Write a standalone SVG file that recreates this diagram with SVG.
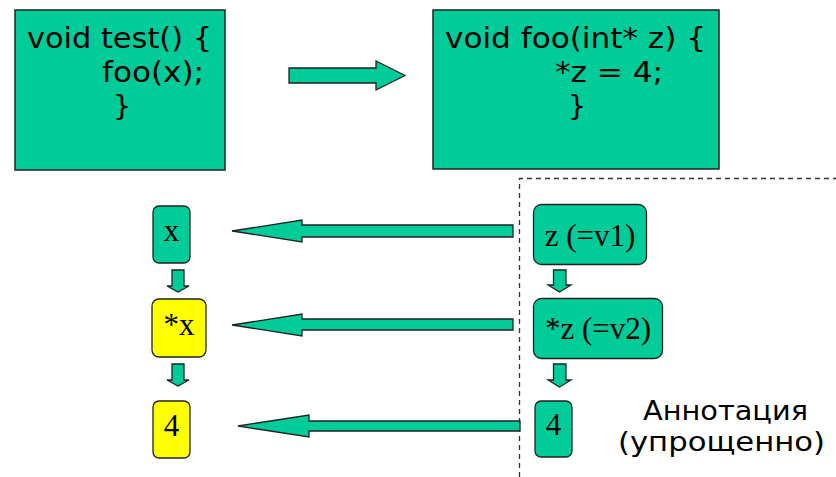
<svg xmlns="http://www.w3.org/2000/svg" width="836" height="477" viewBox="0 0 836 477">
<style>
.box{fill:#00CC99;stroke:#222;stroke-width:1.5}
.g{fill:#00CC99;stroke:#222;stroke-width:1.3;stroke-linejoin:miter}
.y{fill:#FFFF00;stroke:#222;stroke-width:1.3}
.code{font-family:"DejaVu Sans",Verdana,sans-serif;font-size:28.5px;fill:#000}
.t{font-family:"Liberation Serif","Times New Roman",serif;font-size:31px;fill:#000;text-anchor:middle}
.ann{font-family:"DejaVu Sans",Verdana,sans-serif;font-size:26px;fill:#000}
</style>
<rect width="836" height="477" fill="#fff"/>
<g id="test-box">
<rect class="box" x="15" y="10" width="210" height="160"/>
<text class="code" x="27" y="48" textLength="185" lengthAdjust="spacingAndGlyphs">void test() {</text>
<text class="code" x="102" y="82" textLength="102" lengthAdjust="spacingAndGlyphs">foo(x);</text>
<text class="code" x="113" y="116">}</text>
</g>
<g id="foo-box">
<rect class="box" x="433" y="10" width="286" height="159"/>
<text class="code" x="445" y="48" textLength="261" lengthAdjust="spacingAndGlyphs">void foo(int* z) {</text>
<text class="code" x="555" y="82" textLength="108" lengthAdjust="spacingAndGlyphs">*z = 4;</text>
<text class="code" x="568" y="116">}</text>
</g>
<g id="annotation-frame">
<path d="M519.5 477 V178.5 H836" fill="none" stroke="#333" stroke-width="1.3" stroke-dasharray="5,4"/>
<text class="ann" x="643" y="420" textLength="165" lengthAdjust="spacingAndGlyphs">Аннотация</text>
<text class="ann" x="618" y="451" textLength="207" lengthAdjust="spacingAndGlyphs">(упрощенно)</text>
</g>
<g id="node-x"><rect class="g" x="153" y="206" width="37" height="57" rx="6"/><text class="t" x="171.5" y="241">x</text></g>
<g id="node-deref-x"><rect class="y" x="152" y="299" width="54" height="58" rx="7"/><text class="t" x="179" y="335">*x</text></g>
<g id="node-4-left"><rect class="y" x="153" y="401" width="37" height="57" rx="6"/><text class="t" x="171.5" y="436">4</text></g>
<g id="node-z"><rect class="g" x="533.5" y="204.5" width="113" height="60" rx="8"/><text class="t" x="590" y="246">z (=v1)</text></g>
<g id="node-deref-z"><rect class="g" x="533.5" y="298.5" width="129" height="60" rx="8"/><text class="t" x="598" y="339">*z (=v2)</text></g>
<g id="node-4-right"><rect class="g" x="535" y="401" width="37" height="56" rx="6"/><text class="t" x="553.5" y="435">4</text></g>
<g id="connectors">
<polygon class="g" points="289,68 376,68 376,61 405,75.5 376,90 376,83 289,83"/>
<polygon class="g" points="232,231 302,220 302,225 513,225 513,237 302,237 302,242"/>
<polygon class="g" points="232,325 302,314 302,319 513,319 513,330 302,330 302,336"/>
<polygon class="g" points="238,426 309,415 309,421 520,421 520,431 309,431 309,437"/>
<polygon class="g" points="172,270 184,270 184,286 189,286 178,292 167,286 172,286"/>
<polygon class="g" points="172,364 184,364 184,380 189,380 178,386 167,380 172,380"/>
<polygon class="g" points="553.5,270 566,270 566,285 571,285 559.5,292 548,285 553.5,285"/>
<polygon class="g" points="553.5,364 566,364 566,380 571,380 559.5,387 548,380 553.5,380"/>
</g>
</svg>
